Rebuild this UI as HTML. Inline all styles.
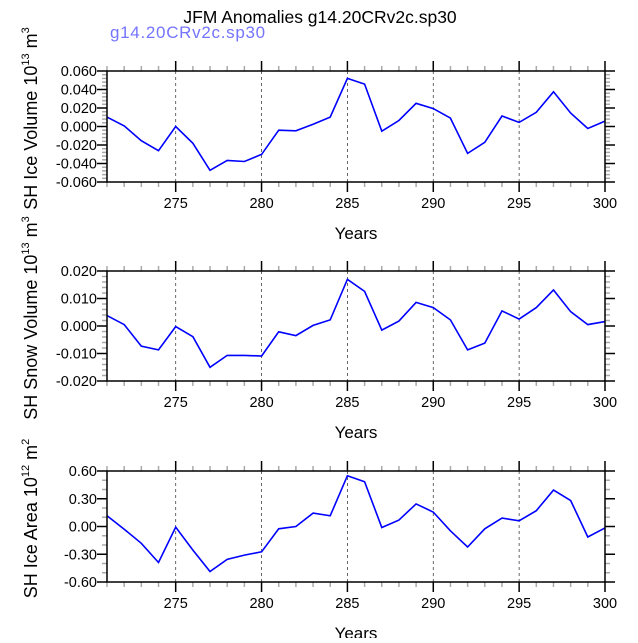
<!DOCTYPE html>
<html><head><meta charset="utf-8"><style>
body{margin:0;background:#fff}
svg{font-family:"Liberation Sans",sans-serif}
</style></head><body>
<svg id="chart" width="638" height="638" viewBox="0 0 638 638" xmlns="http://www.w3.org/2000/svg">
<text x="320" y="23" font-size="17.5" text-anchor="middle">JFM Anomalies g14.20CRv2c.sp30</text>
<text x="110" y="38" font-size="17" letter-spacing="0.7" fill="#7474ff">g14.20CRv2c.sp30</text>
<g id="panels"></g>
</svg>
<script>
const years = [271,272,273,274,275,276,277,278,279,280,281,282,283,284,285,286,287,288,289,290,291,292,293,294,295,296,297,298,299,300];
const iceVolume = [0.0102,0.0007,-0.0153,-0.0262,0,-0.0182,-0.0473,-0.0367,-0.0378,-0.0302,-0.004,-0.0047,0.0025,0.0102,0.052,0.0458,-0.0051,0.0065,0.0251,0.0193,0.0091,-0.0291,-0.0171,0.0113,0.0044,0.0153,0.0375,0.0145,-0.0022,0.0058];
const snowVolume = [0.0038,0.0005,-0.0073,-0.0087,-0.0002,-0.0039,-0.015,-0.0107,-0.0107,-0.0109,-0.0021,-0.0035,0.0002,0.0022,0.017,0.0126,-0.0015,0.0018,0.0086,0.0067,0.0022,-0.0087,-0.0062,0.0055,0.0025,0.0067,0.0131,0.0052,0.0005,0.0016];
const iceArea = [0.116,-0.029,-0.182,-0.389,-0.007,-0.255,-0.487,-0.356,-0.309,-0.273,-0.025,0,0.145,0.116,0.549,0.484,-0.011,0.069,0.244,0.156,-0.047,-0.222,-0.025,0.091,0.062,0.171,0.393,0.280,-0.113,-0.015];
const xTicks = [275,280,285,290,295,300];
const iceVolTicks = [0.06,0.04,0.02,0,-0.02,-0.04,-0.06];
const snowVolTicks = [0.02,0.01,0,-0.01,-0.02];
const areaTicks = [0.6,0.3,0,-0.3,-0.6];

const NS="http://www.w3.org/2000/svg";
const root=document.getElementById('panels');
function mk(tag,attrs,parent){const e=document.createElementNS(NS,tag);for(const k in attrs)e.setAttribute(k,attrs[k]);(parent||root).appendChild(e);return e;}
const X0=107,X1=605;
function xScale(v){return X0+(v-271)/(300-271)*(X1-X0);}

function panel(name,top,bottom,data,ticks,ymin,ymax,dec,minorStep,title,sup,unit){
  const g=mk('g',{});
  
  
  const y=v=>bottom-(v-ymin)/(ymax-ymin)*(bottom-top);
  xTicks.forEach(t=>{if(t<300){const l=mk('line',{x1:xScale(t),x2:xScale(t),y1:top,y2:bottom,stroke:'#444','stroke-width':0.8,'stroke-dasharray':'3,3'},g);
    
    }});
  for(let yr=271;yr<=300;yr++){const maj=xTicks.includes(yr);const L=maj?10:5;
    mk('line',{x1:xScale(yr),x2:xScale(yr),y1:bottom,y2:bottom+L,stroke:maj?'#000':'#aaa','stroke-width':1.5},g);
    mk('line',{x1:xScale(yr),x2:xScale(yr),y1:top,y2:top-L,stroke:maj?'#000':'#aaa','stroke-width':1.5},g);}
  for(let v=ymin;v<=ymax+1e-9;v+=minorStep){
    const isMaj=ticks.some(t=>Math.abs(t-v)<1e-9);const L=isMaj?10:5;
    mk('line',{x1:X0,x2:X0-L,y1:y(v),y2:y(v),stroke:isMaj?'#000':'#aaa','stroke-width':1.5},g);
    mk('line',{x1:X1,x2:X1+L,y1:y(v),y2:y(v),stroke:isMaj?'#000':'#aaa','stroke-width':1.5},g);}
  ticks.forEach(t=>{const tx=mk('text',{x:97,y:y(t)+5,'font-size':14.5,'text-anchor':'end'},g);tx.textContent=t.toFixed(dec);
    
    });
  xTicks.forEach(t=>{const tx=mk('text',{x:xScale(t),y:bottom+26,'font-size':14.5,'text-anchor':'middle'},g);tx.textContent=t;
    
    });
  const pts=data.map((v,i)=>xScale(years[i]).toFixed(1)+','+y(v).toFixed(1)).join(' ');
  const pl=mk('polyline',{points:pts,fill:'none',stroke:'#0000ff','stroke-width':1.6},g);
  
  
  const fr=mk('rect',{x:X0,y:top,width:X1-X0,height:bottom-top,fill:'none',stroke:'#000','stroke-width':1.5},g);
  
  
  const xt=mk('text',{x:356,y:bottom+57,'font-size':17,'text-anchor':'middle'},g);xt.textContent='Years';
  
  
  const cy=(top+bottom)/2-8;
  const yt=mk('text',{x:0,y:0,'font-size':18,'text-anchor':'middle',transform:`translate(37,${cy}) rotate(-90)`},g);
  
  
  yt.appendChild(document.createTextNode(title+' 10'));
  const s1=mk('tspan',{'font-size':11,dy:-8},yt);s1.textContent=sup;
  const s2=mk('tspan',{dy:8},yt);s2.textContent=' m';
  const s3=mk('tspan',{'font-size':11,dy:-8},yt);s3.textContent=unit;
}
panel('ice-volume',71,182,iceVolume,iceVolTicks,-0.06,0.06,3,0.004,'SH Ice Volume','13','3');
panel('snow-volume',271,381,snowVolume,snowVolTicks,-0.02,0.02,3,0.002,'SH Snow Volume','13','3');
panel('ice-area',471,582,iceArea,areaTicks,-0.6,0.6,2,0.1,'SH Ice Area','12','2');
</script>
</body></html>
